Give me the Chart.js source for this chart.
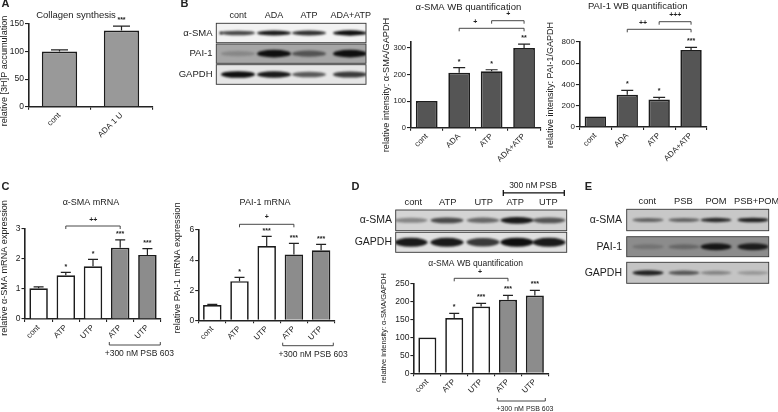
<!DOCTYPE html>
<html>
<head>
<meta charset="utf-8">
<style>
  html, body { margin: 0; padding: 0; background: #fff; }
  #page { position: relative; width: 778px; height: 412px; overflow: hidden; }
  canvas { position: absolute; left: 0; top: 0; }
</style>
<script src="https://cdn.jsdelivr.net/npm/chart.js@4"></script>
</head>
<body>
<div id="page"><canvas id="blots" width="778" height="412"></canvas></div>
<script>
const FONT = '"Liberation Sans", Arial, sans-serif';

// series
const labelsA = ['cont', 'ADA 1 U'];
const collagen = [100, 138];
const collagenTop = [103, 146];
const collagenSig = ['', '***'];

const labelsB = ['cont', 'ADA', 'ATP', 'ADA+ATP'];
const smaWb = [100, 207, 212, 300];
const smaWbTop = [100, 226, 218, 314];
const smaWbSig = ['', '*', '*', '**'];
const paiWb = [100, 303, 258, 725];
const paiWbTop = [100, 345, 279, 749];
const paiWbSig = ['', '*', '*', '***'];

const labelsC = ['cont', 'ATP', 'UTP', 'ATP', 'UTP'];
const smaMrna = [1.02, 1.45, 1.75, 2.37, 2.13];
const smaMrnaTop = [1.07, 1.55, 1.98, 2.63, 2.34];
const smaMrnaSig = ['', '*', '*', '***', '***'];
const paiMrna = [1.02, 2.6, 4.93, 4.38, 4.65];
const paiMrnaTop = [1.06, 2.85, 5.57, 5.11, 5.04];
const paiMrnaSig = ['', '*', '***', '***', '***'];

const smaWbD = [100, 155, 187, 206, 218];
const smaWbDTop = [100, 168, 196, 218, 232];
const smaWbDSig = ['', '*', '***', '***', '***'];

const fillsPsb = ['#fff', '#fff', '#fff', '#8c8c8c', '#8c8c8c'];

// plugin: error bars, stars, brackets and the free text of a panel
const panelExtras = {
  id: 'panelExtras',
  afterDatasetsDraw(chart, args, opts) {
    const ctx = chart.ctx;
    const x = chart.scales.x;
    const y = chart.scales.y;
    ctx.save();
    ctx.strokeStyle = '#222';
    ctx.fillStyle = '#222';
    ctx.lineWidth = 1.2;
    opts.top.forEach((v, i) => {
      const px = x.getPixelForValue(i);
      const py = y.getPixelForValue(v);
      if (v > opts.values[i]) {
        ctx.beginPath();
        ctx.moveTo(px, y.getPixelForValue(opts.values[i]));
        ctx.lineTo(px, py);
        ctx.moveTo(px - opts.cap, py);
        ctx.lineTo(px + opts.cap, py);
        ctx.stroke();
      }
      if (opts.sig[i]) {
        ctx.font = 'bold 7px ' + FONT;
        ctx.textAlign = 'center';
        ctx.textBaseline = 'middle';
        ctx.fillText(opts.sig[i], px, py - opts.sigGap);
      }
    });
    ctx.lineWidth = 0.9;
    ctx.strokeStyle = '#333';
    (opts.brackets || []).forEach(b => {
      const x0 = x.getPixelForValue(b.from);
      const x1 = x.getPixelForValue(b.to);
      ctx.beginPath();
      ctx.moveTo(x0, b.y + 3);
      ctx.lineTo(x0, b.y);
      ctx.lineTo(x1, b.y);
      ctx.lineTo(x1, b.y + 3);
      ctx.stroke();
      ctx.font = 'bold 7px ' + FONT;
      ctx.textAlign = 'center';
      ctx.textBaseline = 'middle';
      ctx.fillText(b.text, b.tx, b.ty);
    });
    (opts.under || []).forEach(u => {
      ctx.beginPath();
      ctx.moveTo(u.x0, u.y - 3);
      ctx.lineTo(u.x0, u.y);
      ctx.lineTo(u.x1, u.y);
      ctx.lineTo(u.x1, u.y - 3);
      ctx.stroke();
    });
    opts.texts.forEach(t => drawText(ctx, t));
    ctx.restore();
  }
};

function drawText(ctx, t) {
  ctx.save();
  ctx.fillStyle = t.color || '#222';
  ctx.font = (t.bold ? 'bold ' : '') + t.size + 'px ' + FONT;
  ctx.textAlign = t.align || 'center';
  ctx.textBaseline = 'middle';
  ctx.translate(t.x, t.y);
  if (t.rot) ctx.rotate(t.rot);
  ctx.fillText(t.text, 0, 0);
  ctx.restore();
}

function addPanel(p) {
  const canvas = document.createElement('canvas');
  canvas.width = 778;
  canvas.height = 412;
  document.getElementById('page').appendChild(canvas);
  return new Chart(canvas.getContext('2d'), {
    type: 'bar',
    data: {
      labels: p.labels,
      datasets: [{
        data: p.values,
        backgroundColor: p.fill,
        borderColor: '#1c1c1c',
        borderWidth: p.border || 1.7,
        borderSkipped: 'bottom',
        barPercentage: p.barPct,
        categoryPercentage: 1,
      }],
    },
    plugins: [panelExtras],
    options: {
      responsive: false,
      animation: false,
      events: [],
      layout: {
        padding: { left: 0, right: 778 - p.right, top: p.top, bottom: 0 },
      },
      plugins: {
        legend: { display: false },
        tooltip: { enabled: false },
        panelExtras: {
          values: p.values,
          top: p.errTop,
          sig: p.sig,
          sigGap: p.sigGap,
          cap: p.cap,
          brackets: p.brackets,
          under: p.under,
          texts: p.texts,
        },
      },
      scales: {
        x: {
          // the labels are clipped to the scale box, so it has to reach the page edge
          afterFit: s => { s.height = 412 - p.bottom; },
          grid: { drawOnChartArea: false, color: '#222', lineWidth: 1.1, tickLength: 3 },
          border: { color: '#222', width: 1.6 },
          ticks: {
            autoSkip: false, minRotation: 45, maxRotation: 45, padding: 1, color: '#222',
            font: { family: FONT, size: p.xFont },
          },
        },
        y: {
          min: 0,
          max: p.max,
          afterFit: s => { s.width = p.left; },
          grid: { drawOnChartArea: false, color: '#222', lineWidth: 1.1, tickLength: 3.5 },
          border: { color: '#222', width: 1.6 },
          ticks: {
            stepSize: p.step, includeBounds: false, padding: 1, color: '#222',
            font: { family: FONT, size: p.yFont },
          },
        },
      },
    },
  });
}

const UP = -Math.PI / 2;

addPanel({
  labels: labelsA, values: collagen, errTop: collagenTop, sig: collagenSig,
  fill: '#999', barPct: 0.57, cap: 8.5, sigGap: 6,
  left: 28.5, right: 152.5, top: 24, bottom: 106.7, max: 150, step: 50, xFont: 8, yFont: 8.5,
  texts: [
    { text: 'A', x: 5.5, y: 4, size: 11, bold: true },
    { text: 'Collagen synthesis', x: 76, y: 15.3, size: 9.5 },
    { text: 'relative [3H]P accumulation', x: 4.5, y: 71, size: 9.1, rot: UP },
  ],
});

addPanel({
  labels: labelsB, values: smaWb, errTop: smaWbTop, sig: smaWbSig,
  fill: '#555', barPct: 0.67, cap: 6, sigGap: 6,
  left: 410.5, right: 540.3, top: 41.3, bottom: 127.7, max: 325, step: 100, xFont: 8, yFont: 7.5,
  brackets: [
    { from: 1, to: 3, y: 28.3, text: '+', tx: 475.3, ty: 21.7 },
    { from: 2, to: 3, y: 20.7, text: '+', tx: 508.3, ty: 14.3 },
  ],
  texts: [
    { text: 'B', x: 184.5, y: 4, size: 11, bold: true },
    { text: 'α-SMA WB quantification', x: 468.3, y: 7.3, size: 9.5 },
    { text: 'relative intensity: α-SMA/GAPDH', x: 386.5, y: 85, size: 9.2, rot: UP },
  ],
});

addPanel({
  labels: labelsB, values: paiWb, errTop: paiWbTop, sig: paiWbSig,
  fill: '#555', barPct: 0.67, cap: 6, sigGap: 6,
  left: 579.4, right: 707, top: 42, bottom: 127, max: 800, step: 200, xFont: 8, yFont: 8,
  brackets: [
    { from: 1, to: 3, y: 29.3, text: '++', tx: 643, ty: 23.5 },
    { from: 2, to: 3, y: 21.7, text: '+++', tx: 675.3, ty: 15.5 },
  ],
  texts: [
    { text: 'PAI-1 WB quantification', x: 637.7, y: 6.3, size: 9.5 },
    { text: 'relative intensity: PAI-1/GAPDH', x: 551, y: 85, size: 9, rot: UP },
  ],
});

addPanel({
  labels: labelsC, values: smaMrna, errTop: smaMrnaTop, sig: smaMrnaSig,
  fill: fillsPsb, barPct: 0.68, cap: 5, sigGap: 5.5,
  left: 25, right: 161, top: 228.7, bottom: 319, max: 3, step: 1, xFont: 8, yFont: 8.5,
  brackets: [{ from: 1, to: 3, y: 226, text: '++', tx: 93.3, ty: 219.7 }],
  under: [{ x0: 109.3, x1: 160.3, y: 345 }],
  texts: [
    { text: 'C', x: 5.5, y: 186.7, size: 11, bold: true },
    { text: 'α-SMA mRNA', x: 91, y: 202.3, size: 9 },
    { text: 'relative α-SMA mRNA expression', x: 4.5, y: 268, size: 9.1, rot: UP },
    { text: '+300 nM PSB 603', x: 139.3, y: 353.7, size: 8.5 },
  ],
});

addPanel({
  labels: labelsC, values: paiMrna, errTop: paiMrnaTop, sig: paiMrnaSig,
  fill: fillsPsb, barPct: 0.68, cap: 5, sigGap: 5.5,
  left: 198.7, right: 334.7, top: 230, bottom: 320.3, max: 6, step: 2, xFont: 8, yFont: 8.5,
  brackets: [{ from: 1, to: 3, y: 224.3, text: '+', tx: 266.7, ty: 217.5 }],
  under: [{ x0: 282.7, x1: 333.3, y: 345.7 }],
  texts: [
    { text: 'PAI-1 mRNA', x: 265, y: 202.3, size: 9 },
    { text: 'relative PAI-1 mRNA expression', x: 177.5, y: 268, size: 9.2, rot: UP },
    { text: '+300 nM PSB 603', x: 313, y: 354.7, size: 8.5 },
  ],
});

addPanel({
  labels: labelsC, values: smaWbD, errTop: smaWbDTop, sig: smaWbDSig,
  fill: fillsPsb, barPct: 0.67, cap: 5, sigGap: 6,
  left: 413.9, right: 548.3, top: 284, bottom: 373.3, max: 250, step: 50, xFont: 8, yFont: 8.5,
  brackets: [{ from: 1, to: 3, y: 278.3, text: '+', tx: 480, ty: 272.5 }],
  under: [{ x0: 497.3, x1: 545.3, y: 401 }],
  texts: [
    { text: 'D', x: 355.5, y: 186.7, size: 11, bold: true },
    { text: 'α-SMA WB quantification', x: 475.7, y: 263.3, size: 8.5 },
    { text: 'relative intensity: α-SMA/GAPDH', x: 384, y: 328, size: 7.5, rot: UP },
    { text: '+300 nM PSB 603', x: 525, y: 409, size: 7 },
  ],
});

// western blot strips: one band strength per lane
const blotB = [
  { name: 'α-SMA', y0: 23.3, y1: 42.7, bg: '#f2f2f2', bands: [0.75, 0.95, 0.85, 1], thick: 2.2, spot: [221, 33] },
  { name: 'PAI-1', y0: 44, y1: 63.3, bg: '#a6a6a6', bands: [0.2, 1, 0.55, 1], thick: 3.2 },
  { name: 'GAPDH', y0: 64.7, y1: 84.3, bg: '#e6e6e6', bands: [1, 0.95, 0.65, 0.8], thick: 2.8 },
];
const blotD = [
  { name: 'α-SMA', y0: 210, y1: 230.7, bg: '#d4d4d4', bands: [0.4, 0.7, 0.55, 0.95, 0.65], thick: 2.8 },
  { name: 'GAPDH', y0: 232.3, y1: 252.3, bg: '#e0e0e0', bands: [0.95, 0.95, 0.8, 1, 0.95], thick: 3.8 },
];
const blotE = [
  { name: 'α-SMA', y0: 209.3, y1: 230.7, bg: '#c8c8c8', bands: [0.55, 0.55, 0.85, 0.9], thick: 2 },
  { name: 'PAI-1', y0: 236.7, y1: 256.7, bg: '#8c8c8c', bands: [0.2, 0.3, 0.95, 0.9], thick: 3 },
  { name: 'GAPDH', y0: 262.3, y1: 283.3, bg: '#c4c4c4', bands: [0.9, 0.6, 0.35, 0.25], thick: 2.3 },
];

function drawBlot(ctx, b) {
  b.rows.forEach(r => {
    ctx.save();
    ctx.beginPath();
    ctx.rect(b.x0, r.y0, b.x1 - b.x0, r.y1 - r.y0);
    ctx.clip();
    ctx.fillStyle = r.bg;
    ctx.fillRect(b.x0, r.y0, b.x1 - b.x0, r.y1 - r.y0);
    ctx.filter = 'blur(1.2px)';
    r.bands.forEach((v, i) => {
      ctx.fillStyle = 'rgba(15,15,15,' + v + ')';
      ctx.beginPath();
      ctx.ellipse(b.lanes[i], (r.y0 + r.y1) / 2, b.laneW, r.thick * (0.7 + v * 0.5), 0, 0, Math.PI * 2);
      ctx.fill();
    });
    if (r.spot) {
      ctx.fillStyle = '#111';
      ctx.beginPath();
      ctx.arc(r.spot[0], r.spot[1], 1.5, 0, Math.PI * 2);
      ctx.fill();
    }
    ctx.restore();
    ctx.strokeStyle = '#333';
    ctx.lineWidth = 0.9;
    ctx.strokeRect(b.x0, r.y0, b.x1 - b.x0, r.y1 - r.y0);
    drawText(ctx, { text: r.name, x: b.nameX, y: (r.y0 + r.y1) / 2, size: b.size, align: 'right' });
  });
  b.heads.forEach((h, i) => {
    drawText(ctx, { text: h, x: b.headX[i], y: b.headY, size: b.headSize });
  });
}

const blotCtx = document.getElementById('blots').getContext('2d');
blotCtx.fillStyle = '#fff';
blotCtx.fillRect(0, 0, 778, 412);
drawBlot(blotCtx, {
  x0: 216.3, x1: 366, rows: blotB, lanes: [238, 274, 309, 350], laneW: 17, nameX: 212.5, size: 9.5, headSize: 9,
  heads: labelsB, headX: [238, 274, 309, 350.7], headY: 16,
});
drawBlot(blotCtx, {
  x0: 395.7, x1: 566.7, rows: blotD, lanes: [411, 447, 483, 517, 549], laneW: 16.5, nameX: 392, size: 10.5, headSize: 9.3,
  heads: labelsC, headX: [413.3, 447.7, 483.7, 515.3, 548.3], headY: 202.3,
});
drawBlot(blotCtx, {
  x0: 626.7, x1: 768.7, rows: blotE, lanes: [648, 684, 716, 753], laneW: 15.5, nameX: 622, size: 10.5, headSize: 9.3,
  heads: ['cont', 'PSB', 'POM', 'PSB+POM'], headX: [647.3, 683.3, 716, 756.7], headY: 201,
});

// bracket over the PSB lanes of blot D
drawText(blotCtx, { text: '300 nM PSB', x: 533, y: 186, size: 8.5 });
blotCtx.strokeStyle = '#111';
blotCtx.lineWidth = 1.3;
blotCtx.beginPath();
blotCtx.moveTo(503.3, 190);
blotCtx.lineTo(503.3, 196);
blotCtx.moveTo(503.3, 192.8);
blotCtx.lineTo(564.3, 192.8);
blotCtx.moveTo(564.3, 190);
blotCtx.lineTo(564.3, 196);
blotCtx.stroke();

// panel E letter sits outside any chart
drawText(blotCtx, { text: 'E', x: 588.5, y: 186.7, size: 11, bold: true });
</script>
</body>
</html>
